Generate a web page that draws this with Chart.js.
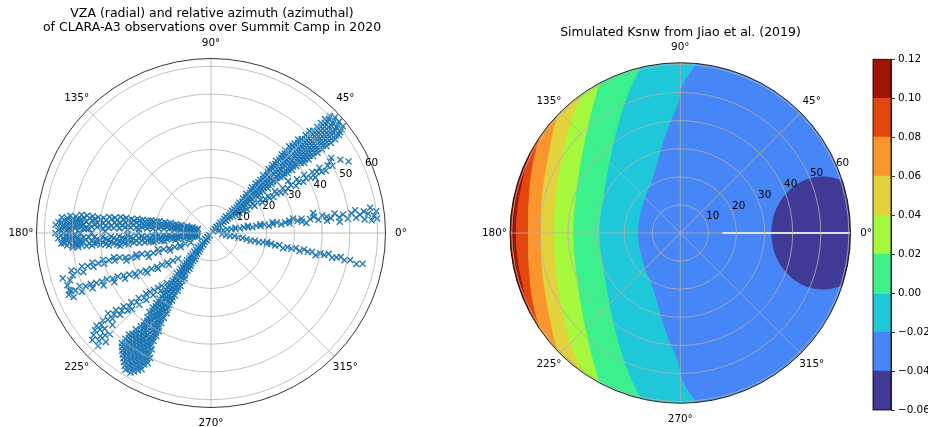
<!DOCTYPE html>
<html>
<head>
<meta charset="utf-8">
<title>Summit Camp VZA / Ksnw</title>
<script src="https://cdn.jsdelivr.net/npm/chart.js@4.4.1/dist/chart.umd.min.js"></script>
<style>
  html, body { margin: 0; padding: 0; background: #fff; }
  #fig { position: relative; width: 928px; height: 427px; overflow: hidden; }
  #fig canvas { position: absolute; }
</style>
</head>
<body>
<div id="fig">
  <canvas id="obsChart" width="464" height="427" style="left:0;top:0"></canvas>
  <canvas id="ksnwChart" width="409" height="427" style="left:464px;top:0"></canvas>
  <canvas id="cbarChart" width="66" height="370" style="left:862px;top:50px"></canvas>
</div>
<script>
// rings (VZA) and spokes (azimuth) shared by both polar panels
const rings = [10, 20, 30, 40, 50, 60];
const spokes = [0, 45, 90, 135, 180, 225, 270, 315];
const obsVzaMax = 62.8;
const simVzaMax = 60.6;

// CLARA-A3 observations grouped by VZA: [vza, azimuth, azimuth, ...] (degrees)
const passNE = [
  [1,38,50],[2,41,47],[3,40,45,49],[4,42,46],[5,40,44,48],[6,41,45],[7,39,43,47],[8,41,45,48],[9,40,44],[10,38,42,46],
  [11,40,44,47],[12,39,43,46],[13,41,45],[14,39,42,46],[15,40,44,47],[16,38,42,45],[17,40,43,47],[18,39,42,46],[19,41,44,48],[20,39,43,46],
  [21,40,44,47],[22,38,42,45,48],[23,40,43,46],[24,39,42,45,48],[25,41,44,47],[26,38,41,44,47],[27,40,43,46],[28,39,42,45,48],[29,40,43,46],[30,38,41,44,47],
  [31,40,43,46,48],[32,39,41,44,47],[33,38,41,43,46,48],[34,39,42,45,47],[35,38,40,43,45,48],[36,39,42,44,47],[37,38,40,43,45,47],[38,39,41,44,46,48],[39,38,40,42,45,47],[40,39,41,43,46,48],
  [41,38,40,42,44,46],[42,37,39,41,43,46,48],[43,38,40,42,44,47],[44,37,39,41,43,45,47],[45,38,40,42,44,46],[46,37,39,41,43,45,47],[47,38,40,42,44,46],[48,37,39,41,43,45],[49,38,40,42,44,46],[50,37,39,41,43,45],
  [51,38,40,42,44,46],[52,37,39,41,43,45],[53,38,40,42,44],[54,37,39,41,43,45],[55,38,40,42,44],[56,37,39,41,43,45],[57,38,40,42,44],[58,37.5,39.5,41.5,43.5,45],[59,38,40,42,44],[60,38.5,40.5,42.5,44.5],[61,39,41,43]
];
const passENE = [
  [11,36],[12.5,35],[14,34,36],[15.5,33],[17,34],[18.5,32,35],[20,33],[21.5,31,34],[23,32],[24.5,31,33],[26,30],[27.5,31,33],
  [29,30],[30.5,29,32],[32,30],[33.5,31,34],[35,29],[36.5,30,32],[38,29],[39.5,30,32],[41,29],[42.5,28,31],[44,30],[45.5,29,31],
  [47,28.5],[48.5,30],[50,29,31],[51,32],[53.5,29.5],[55.8,27.5]
];
const passE = [
  [3,15],[4.5,13],[6,12],[7.5,11],[9,10,12],[10.5,9],[12,10],[13.5,9,11],[15,8],[16.5,9],[18,8,10],[19.5,9],
  [21,7],[22.5,8,10],[24,9],[25.5,7],[27,8],[28.5,9,7],[30,10],[31.5,8],[33,9,7],[34.5,6],[36,8],[37.5,9,11],
  [39,7],[40.5,9],[42,8,6],[43.5,7],[45,9],[46.5,7,5],[48,8],[49.5,6],[51,8],[52.5,6,9],[54,7],[55.5,5,8],
  [57,7],[58,4.5,9],[59,6],[60,7.5,5]
];
const passESE = [
  [4,-7],[5.5,-8],[7,-9],[8.5,-8],[10,-10],[11.5,-9],[13,-10],[14.5,-11],[16,-10],[17.5,-11],[19,-10],[20.5,-9,-11],
  [22,-10],[23.5,-11],[25,-10],[26.5,-12],[28,-10.5],[29.5,-11],[31,-10],[32.5,-11.5],[34,-10],[35.5,-11],[37,-10.5],[38.5,-12],
  [40,-10.5],[41.5,-11],[43,-10],[44.5,-11.5],[46,-11],[47.5,-10.5],[49,-11.5],[51,-11],[53.5,-12],[55.7,-11.5]
];
const passWupper = [
  [5,162,170],[6,165,172],[7,163,168,174],[8,166,171],[9,164,169,174],[10,167,172],[11,165,170,174],[12,167,172],[13,166,170,174],[14,168,173],
  [15,166,170,174],[16,168,172],[17,167,171,175],[18,169,173],[19,167,171,175],[20,168,172],[21,169,173,176],[22,168,171,174],[23,169,173,176],[24,170,174],
  [25,169,172,175],[26,170,174,177],[27,169,172,176],[28,171,174],[29,170,173,176],[30,171,175,178],[31,170,173,176],[32,171,175],[33,170,174,177],[34,172,175],
  [35,171,174,177],[36,172,176],[37,171,174,177],[38,173,176],[39,172,175,178],[40,173,176],[41,172,175,177],[42,173,176],[43,172,174,177],[44,173,176,178],
  [45,172,175],[46,173,176,178],[47,172,174,177],[48,174,177],[49,173,175,178],[50,174,177],[51,173,176,179],[52,174,177],[53,175,178],[54,176,179]
];
const passWlower = [
  [5,188,196],[6,186,192],[7,185,190],[8,187,193],[9,184,189],[10,186,191],[11,184,188],[12,185,190],[13,183,187,191],[14,185,189],
  [15,183,187],[16,184,188],[17,183,186,190],[18,185,189],[19,183,187],[20,184,188],[21,183,186,189],[22,185,188],[23,183,187],[24,184,188],
  [25,183,186],[26,184,188],[27,182,186],[28,184,187],[29,183,186],[30,182,185,188],[31,184,187],[32,183,186],[33,182,185,188],[34,184,187],
  [35,183,186],[36,182,185],[37,184,187],[38,183,186],[39,182,185],[40,184,186],[41,183,185],[42,182,185],[43,184,186],[44,182,185],
  [45,183,186],[46,182,184],[47,183,185],[48,182,185],[49,181,184],[50,183,185],[51,182,184],[52,181,183],[53,182,184]
];
const passWend = [
  [47,176,180,184],[48,175,179,183,186],[49,177,181,185],[50,175,179,182,186],[51,177,180,184],[52,175,179,182,185],[53,177,180,183],
  [54,174,178,181,184],[55,176,179,182],[56,177,180],
  [20,178],[26,180],[30,181],[33,177],[38,179],[43,180],[45,178]
];
const passWSW = [
  [8,205],[10,203],[12,202,205],[14,201],[16,200,203],[18,199],[20,200,197],[22,199],[24,198,201],[26,197],[28,198,196],[30,197],
  [32,196,198],[34,195],[36,196,194],[38,195],[40,194,196],[42,195],[44,194,196],[46,195],[48,194.5,197],[50,196],[52,197,195],
  [53.5,198.5],[55,200,202],[55.8,203.5,197]
];
const passWSW2 = [
  [15,218],[17,216],[19,214,217],[21,213],[23,212,214],[25,211],[27,210,212],[29,209],[31,208,210],[33,207],[35,206,208],
  [37,205],[39,205,207],[41,204],[43,204,206],[45,203.5],[47,203,205],[49,203],[51,202,204.5],[53,203],[54.5,202.5,205]
];
const passSW = [
  [1,225,240],[2,228,236],[3,227,233,239],[4,229,235],[5,228,232,237],[6,230,235],[7,227,231,236],[8,229,234,238],[9,228,232,236],[10,229,233,237],
  [11,228,232,236,239],[12,230,234,238],[13,229,233,237],[14,230,234,238],[15,229,233,236,239],[16,231,235,238],[17,230,233,237],[18,231,234,238],[19,230,234,237,240],[20,231,235,239],
  [21,232,235,238],[22,231,234,237,240],[23,232,236,239],[24,231,234,237,240],[25,232,235,238],[26,231,234,237,240],[27,233,236,239],[28,232,235,238,240],[29,233,236,239],[30,232,234,237,240],
  [31,233,235,238,240],[32,232,235,237,240],[33,233,236,238,241],[34,232,234,237,239],[35,233,236,238,241],[36,232,235,237,240],[37,234,236,239,241],[38,233,235,238,240],[39,234,236,239,241],[40,233,235,238,240,242],
  [41,234,236,239,241],[42,233,235,237,240,242],[43,234,236,238,241],[44,232,234,236,238,240,242],[45,233,235,237,239,241],[46,232,234,236,238,240,242],[47,231,233,235,237,239,241,243],[48,232,234,236,238,240,242],[49,231,233,235,237,239,241,243],[50,232,234,236,238,240,242,244],
  [51,231,233,235,237,239,241,243],[52,232,234,236,238,240,242,244],[53,233,235,237,239,241,243],[54,234,236,238,240,242],[55,235,237,239,241,243],[56,236,238,240,242],[57,237,239,241],[58,238,240]
];
const passSSW = [
  [24,229],[26,227],[27.5,226,229],[29,225],[30.5,224,227],[32,223],[33.5,224,226],[35,222],[36.5,223,225],[38,221],
  [39.5,222,224],[41,220,223],[42.5,221],[44,219,222],[45.5,220],[47,218,221],[48.5,220,223],[50,219],[51.5,220,222,225],
  [53,219,221,224],[54.5,220,223,226],[56,221,224],[57.5,222,225]
];

// Ksnw contour levels and fill colours (turbo)
const ksnwLevels = [-0.06, -0.04, -0.02, 0.00, 0.02, 0.04, 0.06, 0.08, 0.10, 0.12];
const ksnwColors = ['#403a96', '#4686f6', '#1ec8d8', '#3cf08c', '#a5f83c', '#e4d23c', '#fa962d', '#e4460f', '#a01405'];

// contour lines [azimuth deg, VZA deg]; open lines run from the upper edge of the disk to the lower edge
const isoM004 = [[0,68.9],[4.3,68.5],[8.5,67.3],[12.5,65.2],[16.1,62.3],[19.1,58.7],[21.4,54.6],[22.7,49.9],[22.5,45.1],
  [20.4,40.5],[15.9,36.4],[8.8,33.6],[0,32.6],[-8.8,33.6],[-15.9,36.4],[-20.4,40.5],[-22.5,45.1],[-22.7,49.9],
  [-21.4,54.6],[-19.1,58.7],[-16.1,62.3],[-12.5,65.2],[-8.5,67.3],[-4.3,68.5]];
const isoM002 = [[83,64.1],[86.2,58.1],[89.6,51.9],[91.3,45.9],[99.4,34.7],[118.7,21.3],[141.7,17.1],[180,15.2],
  [218.3,17.1],[241.3,21.3],[260.6,34.7],[268.7,45.9],[270.4,51.9],[273.8,58.1],[277,64.1]];
const iso000 = [[99.5,66.3],[104,60.1],[110.7,52.9],[121.4,43.5],[135.8,35.5],[155.8,30.2],[180,29.0],
  [204.2,30.2],[224.2,35.5],[238.6,43.5],[249.3,52.9],[256,60.1],[260.5,66.3]];
const iso002 = [[113.8,65.7],[121.3,57.9],[131.8,49.8],[145.3,43.4],[161.7,39.4],[180,38.2],
  [198.3,39.4],[214.7,43.4],[228.2,49.8],[238.7,57.9],[246.2,65.7]];
const iso004 = [[119.9,65.2],[125.5,60.8],[137.1,54.5],[150,49.4],[164.5,46.2],[180,45.2],
  [195.5,46.2],[210,49.4],[222.9,54.5],[234.5,60.8],[240.1,65.2]];
const iso006 = [[132.9,62.8],[140.6,58.5],[152.6,53.7],[166,51.0],[180,49.8],
  [194,51.0],[207.4,53.7],[219.4,58.5],[227.1,62.8]];
const iso008 = [[138.4,63.8],[144.7,61.1],[154.8,58.2],[167.1,55.5],[180,54.4],
  [192.9,55.5],[205.2,58.2],[215.3,61.1],[221.6,63.8]];
const iso010 = [[146.3,63.7],[152.2,60.7],[157.5,60.0],[162.6,59.2],[169.6,58.9],[180,58.7],
  [190.4,58.9],[197.4,59.2],[202.5,60.0],[207.8,60.7],[213.7,63.7]];
// azimuth wrap seam of the simulated field
const seam = [[0,15],[0,60.6]];

const rad = d => d * Math.PI / 180;
const toXY = ([az, vza]) => ({x: vza * Math.cos(rad(az)), y: vza * Math.sin(rad(az))});
const unrow = rows => rows.flatMap(([vza, ...az]) => az.map(a => [a, vza]));

const obsPoints = [passNE, passENE, passE, passESE, passWupper, passWlower, passWend,
  passWSW, passWSW2, passSW, passSSW].flatMap(unrow);

function polarGeom(chart, rmax) {
  const {x, y} = chart.scales;
  const cx = x.getPixelForValue(0), cy = y.getPixelForValue(0);
  const unit = x.getPixelForValue(1) - cx;
  return {cx, cy, unit, rOut: rmax * unit};
}

// grid rings, spokes, spine, labels and titles of a polar panel
const polarFrame = {
  id: 'polarFrame',
  beforeDatasetsDraw(chart, args, opts) {
    if (!opts.clip) return;
    const g = polarGeom(chart, opts.rmax);
    const ctx = chart.ctx;
    ctx.save();
    ctx.beginPath();
    ctx.arc(g.cx, g.cy, g.rOut, 0, 2 * Math.PI);
    ctx.clip();
  },
  afterDatasetsDraw(chart, args, opts) {
    const ctx = chart.ctx;
    if (opts.clip) ctx.restore();
    const g = polarGeom(chart, opts.rmax);
    ctx.save();
    ctx.strokeStyle = '#b0b0b0';
    ctx.lineWidth = 0.8;
    rings.forEach(r => {
      ctx.beginPath();
      ctx.arc(g.cx, g.cy, r * g.unit, 0, 2 * Math.PI);
      ctx.stroke();
    });
    spokes.forEach(a => {
      ctx.beginPath();
      ctx.moveTo(g.cx, g.cy);
      ctx.lineTo(g.cx + g.rOut * Math.cos(rad(a)), g.cy - g.rOut * Math.sin(rad(a)));
      ctx.stroke();
    });
    ctx.strokeStyle = '#000';
    ctx.beginPath();
    ctx.arc(g.cx, g.cy, g.rOut, 0, 2 * Math.PI);
    ctx.stroke();

    ctx.fillStyle = '#000';
    ctx.font = '10.4px "DejaVu Sans"';
    ctx.textAlign = 'center';
    ctx.textBaseline = 'middle';
    const rl = g.rOut + 15.5;
    spokes.forEach(a => {
      ctx.fillText(a + '°', g.cx + rl * Math.cos(rad(a)), g.cy - rl * Math.sin(rad(a)));
    });
    rings.forEach(r => {
      const d = r * g.unit;
      ctx.fillText(String(r), g.cx + d * Math.cos(rad(22.5)) + 6.5, g.cy - d * Math.sin(rad(22.5)) - 5.5);
    });
    ctx.font = '12.5px "DejaVu Sans"';
    opts.title.forEach(t => ctx.fillText(t.text, t.x, t.y));
    ctx.restore();
  }
};

const hiddenAxis = rmax => ({type: 'linear', min: -rmax, max: rmax, display: false});

new Chart(document.getElementById('obsChart'), {
  type: 'scatter',
  data: {
    datasets: [{
      data: obsPoints.map(toXY),
      pointStyle: 'crossRot',
      pointRadius: 4.3,
      pointBorderWidth: 1.35,
      borderColor: '#1f77b4',
      backgroundColor: '#1f77b4',
      pointBorderColor: '#1f77b4'
    }]
  },
  options: {
    responsive: false,
    animation: false,
    devicePixelRatio: 1,
    layout: {padding: {left: 36.5, top: 58.5, right: 78.5, bottom: 19.5}},
    scales: {x: hiddenAxis(obsVzaMax), y: hiddenAxis(obsVzaMax)},
    plugins: {
      legend: {display: false},
      tooltip: {enabled: false},
      polarFrame: {
        rmax: obsVzaMax,
        clip: false,
        title: [
          {text: 'VZA (radial) and relative azimuth (azimuthal)', x: 212, y: 14},
          {text: 'of CLARA-A3 observations over Summit Camp in 2020', x: 212, y: 28}
        ]
      }
    }
  },
  plugins: [polarFrame]
});

// one filled band per contour line; "left" fills toward 180°, "right" toward 0°
const far = 2 * simVzaMax;
function band(line, colorIdx, side) {
  const c = ksnwColors[colorIdx];
  return {
    type: 'line',
    indexAxis: 'y',
    data: line.map(toXY),
    fill: {value: side === 'left' ? -far : far},
    backgroundColor: c,
    borderColor: c,
    borderWidth: 1,
    pointRadius: 0,
    tension: 0.4
  };
}
const lvl = v => ksnwLevels.findIndex(l => Math.abs(l - v) < 1e-9);
const cLow = ksnwColors[lvl(-0.04) - 1];

new Chart(document.getElementById('ksnwChart'), {
  type: 'scatter',
  data: {
    datasets: [
      {type: 'line', data: seam.map(toXY), borderColor: '#ffffff', borderWidth: 2, pointRadius: 0, fill: false},
      band(iso010, lvl(0.10), 'left'),
      band(iso008, lvl(0.08), 'left'),
      band(iso006, lvl(0.06), 'left'),
      band(iso004, lvl(0.04), 'left'),
      band(iso002, lvl(0.02), 'left'),
      band(iso000, lvl(0.00), 'left'),
      band(isoM002, lvl(-0.02), 'left'),
      {type: 'line', data: isoM004.map(toXY), fill: 'shape', backgroundColor: cLow, borderColor: cLow,
       borderWidth: 1, pointRadius: 0, tension: 0.4},
      band(isoM002, lvl(-0.02) - 1, 'right')
    ]
  },
  options: {
    responsive: false,
    animation: false,
    devicePixelRatio: 1,
    layout: {padding: {left: 46, top: 62.7, right: 22.4, bottom: 23.7}},
    scales: {x: hiddenAxis(simVzaMax), y: hiddenAxis(simVzaMax)},
    plugins: {
      legend: {display: false},
      tooltip: {enabled: false},
      polarFrame: {
        rmax: simVzaMax,
        clip: true,
        title: [{text: 'Simulated Ksnw from Jiao et al. (2019)', x: 216.5, y: 33}]
      }
    }
  },
  plugins: [polarFrame]
});

// colour bar: one floating bar per contour band
const cbarOutline = {
  id: 'cbarOutline',
  afterDatasetsDraw(chart) {
    const {ctx, chartArea: a} = chart;
    ctx.save();
    ctx.strokeStyle = '#000';
    ctx.lineWidth = 0.8;
    ctx.strokeRect(a.left, a.top, a.right - a.left, a.bottom - a.top);
    ctx.restore();
  }
};

new Chart(document.getElementById('cbarChart'), {
  type: 'bar',
  data: {
    labels: ['Ksnw'],
    datasets: ksnwColors.map((c, i) => ({
      data: [[ksnwLevels[i], ksnwLevels[i + 1]]],
      backgroundColor: c,
      borderWidth: 0,
      barPercentage: 1,
      categoryPercentage: 1,
      grouped: false
    }))
  },
  options: {
    responsive: false,
    animation: false,
    devicePixelRatio: 1,
    layout: {padding: {left: 11, top: 9, right: 0, bottom: 10}},
    scales: {
      x: {display: false},
      y: {
        position: 'right',
        min: -0.06,
        max: 0.12,
        afterFit(scale) { scale.width = 37; },
        ticks: {
          stepSize: 0.02,
          padding: 3,
          color: '#000',
          font: {family: 'DejaVu Sans', size: 10.4},
          callback: v => (Math.abs(v) < 1e-9 ? 0 : v).toFixed(2).replace('-', '\u2212')
        },
        grid: {drawOnChartArea: false, drawTicks: true, tickLength: 4, color: '#000', lineWidth: 0.8},
        border: {display: true, color: '#000', width: 0.8}
      }
    },
    plugins: {legend: {display: false}, tooltip: {enabled: false}}
  },
  plugins: [cbarOutline]
});
</script>
</body>
</html>
